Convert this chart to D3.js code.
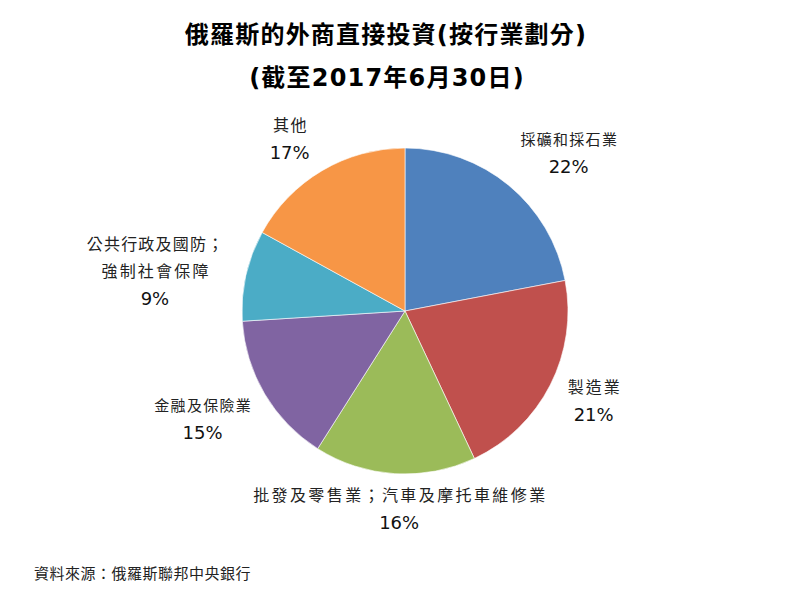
<!DOCTYPE html>
<html>
<head>
<meta charset="utf-8">
<script src="https://cdn.jsdelivr.net/npm/d3@7"></script>
<style>
  html, body { margin: 0; padding: 0; background: #fff; }
  #chart { width: 800px; height: 594px; }
</style>
</head>
<body>
<div id="chart"></div>
<script>
(function () {
  "use strict";

  // data, clockwise from 12 o'clock
  var categories = [
    ["採礦和採石業"],
    ["製造業"],
    ["批發及零售業；汽車及摩托車維修業"],
    ["金融及保險業"],
    ["公共行政及國防；", "強制社會保障"],
    ["其他"]
  ];
  var shares = [22, 21, 16, 15, 9, 17];
  var colors = ["#4f81bd", "#c0504d", "#9bbb59", "#8064a2", "#4bacc6", "#f79646"];

  // label layout: nudge from the label arc, font size, letter spacing per line
  var nudge   = [[33, 0], [6, -3], [7, -7], [-26, 4], [-50, 5], [-11, 4]];
  var lblSize = [15, 16, 16, 15, 16, 16];
  var lblGap  = [[1.3], [2], [2.4], [1.3], [1.2, 2.2], [1.5]];

  var W = 800, H = 594;
  var CX = 405, CY = 311, R = 163;
  var CJK = "'Noto Sans CJK TC', 'Noto Sans CJK SC', sans-serif";
  var MIX = "'DejaVu Sans', 'Noto Sans CJK TC', 'Noto Sans CJK SC', sans-serif";
  var NUM = "'DejaVu Sans', Verdana, sans-serif";

  var svg = d3.select("#chart").append("svg")
    .attr("width", W)
    .attr("height", H);

  // title
  var title = svg.append("g")
    .attr("font-family", MIX)
    .attr("font-weight", "bold")
    .attr("font-size", "24px")
    .attr("fill", "#000")
    .attr("text-anchor", "middle");
  title.append("text")
    .attr("x", 386).attr("y", 35)
    .attr("dy", "0.35em")
    .attr("letter-spacing", "1.2px")
    .text("俄羅斯的外商直接投資(按行業劃分)");
  title.append("text")
    .attr("x", 387).attr("y", 78)
    .attr("dy", "0.35em")
    .attr("letter-spacing", "1.2px")
    .text("(截至2017年6月30日)");

  var pie = d3.pie().sort(null).value(function (d) { return d; });
  var arcs = pie(shares);

  var arc = d3.arc().innerRadius(0).outerRadius(R);
  var labelArc = d3.arc().innerRadius(205).outerRadius(205);

  var g = svg.append("g")
    .attr("transform", "translate(" + CX + "," + CY + ")");

  g.selectAll("path.slice")
    .data(arcs)
    .enter().append("path")
      .attr("class", "slice")
      .attr("d", arc)
      .attr("fill", function (d, i) { return colors[i]; })
      .attr("stroke", "#fff")
      .attr("stroke-width", 0.6);

  var lineH = 27;

  arcs.forEach(function (d, i) {
    var c = labelArc.centroid(d);
    var x = c[0] + nudge[i][0];
    var y = c[1] + nudge[i][1];
    var lines = categories[i];
    var n = lines.length + 1;
    var y0 = y - (n - 1) * lineH / 2;

    var lg = g.append("g").attr("text-anchor", "middle").attr("fill", "#222");

    lines.forEach(function (t, k) {
      var sp = lblGap[i][k];
      lg.append("text")
        .attr("x", x + sp / 2)
        .attr("y", y0 + k * lineH)
        .attr("dy", "0.35em")
        .attr("font-family", CJK)
        .attr("font-size", lblSize[i] + "px")
        .attr("letter-spacing", sp + "px")
        .text(t);
    });

    lg.append("text")
      .attr("x", x)
      .attr("y", y0 + lines.length * lineH)
      .attr("dy", "0.36em")
      .attr("font-family", NUM)
      .attr("font-size", "18px")
      .attr("fill", "#111")
      .text(shares[i] + "%");
  });

  // source note
  svg.append("text")
    .attr("x", 34).attr("y", 574)
    .attr("dy", "0.35em")
    .attr("font-family", CJK)
    .attr("font-size", "15px")
    .attr("letter-spacing", "0.5px")
    .attr("fill", "#222")
    .text("資料來源：俄羅斯聯邦中央銀行");
}());
</script>
</body>
</html>
